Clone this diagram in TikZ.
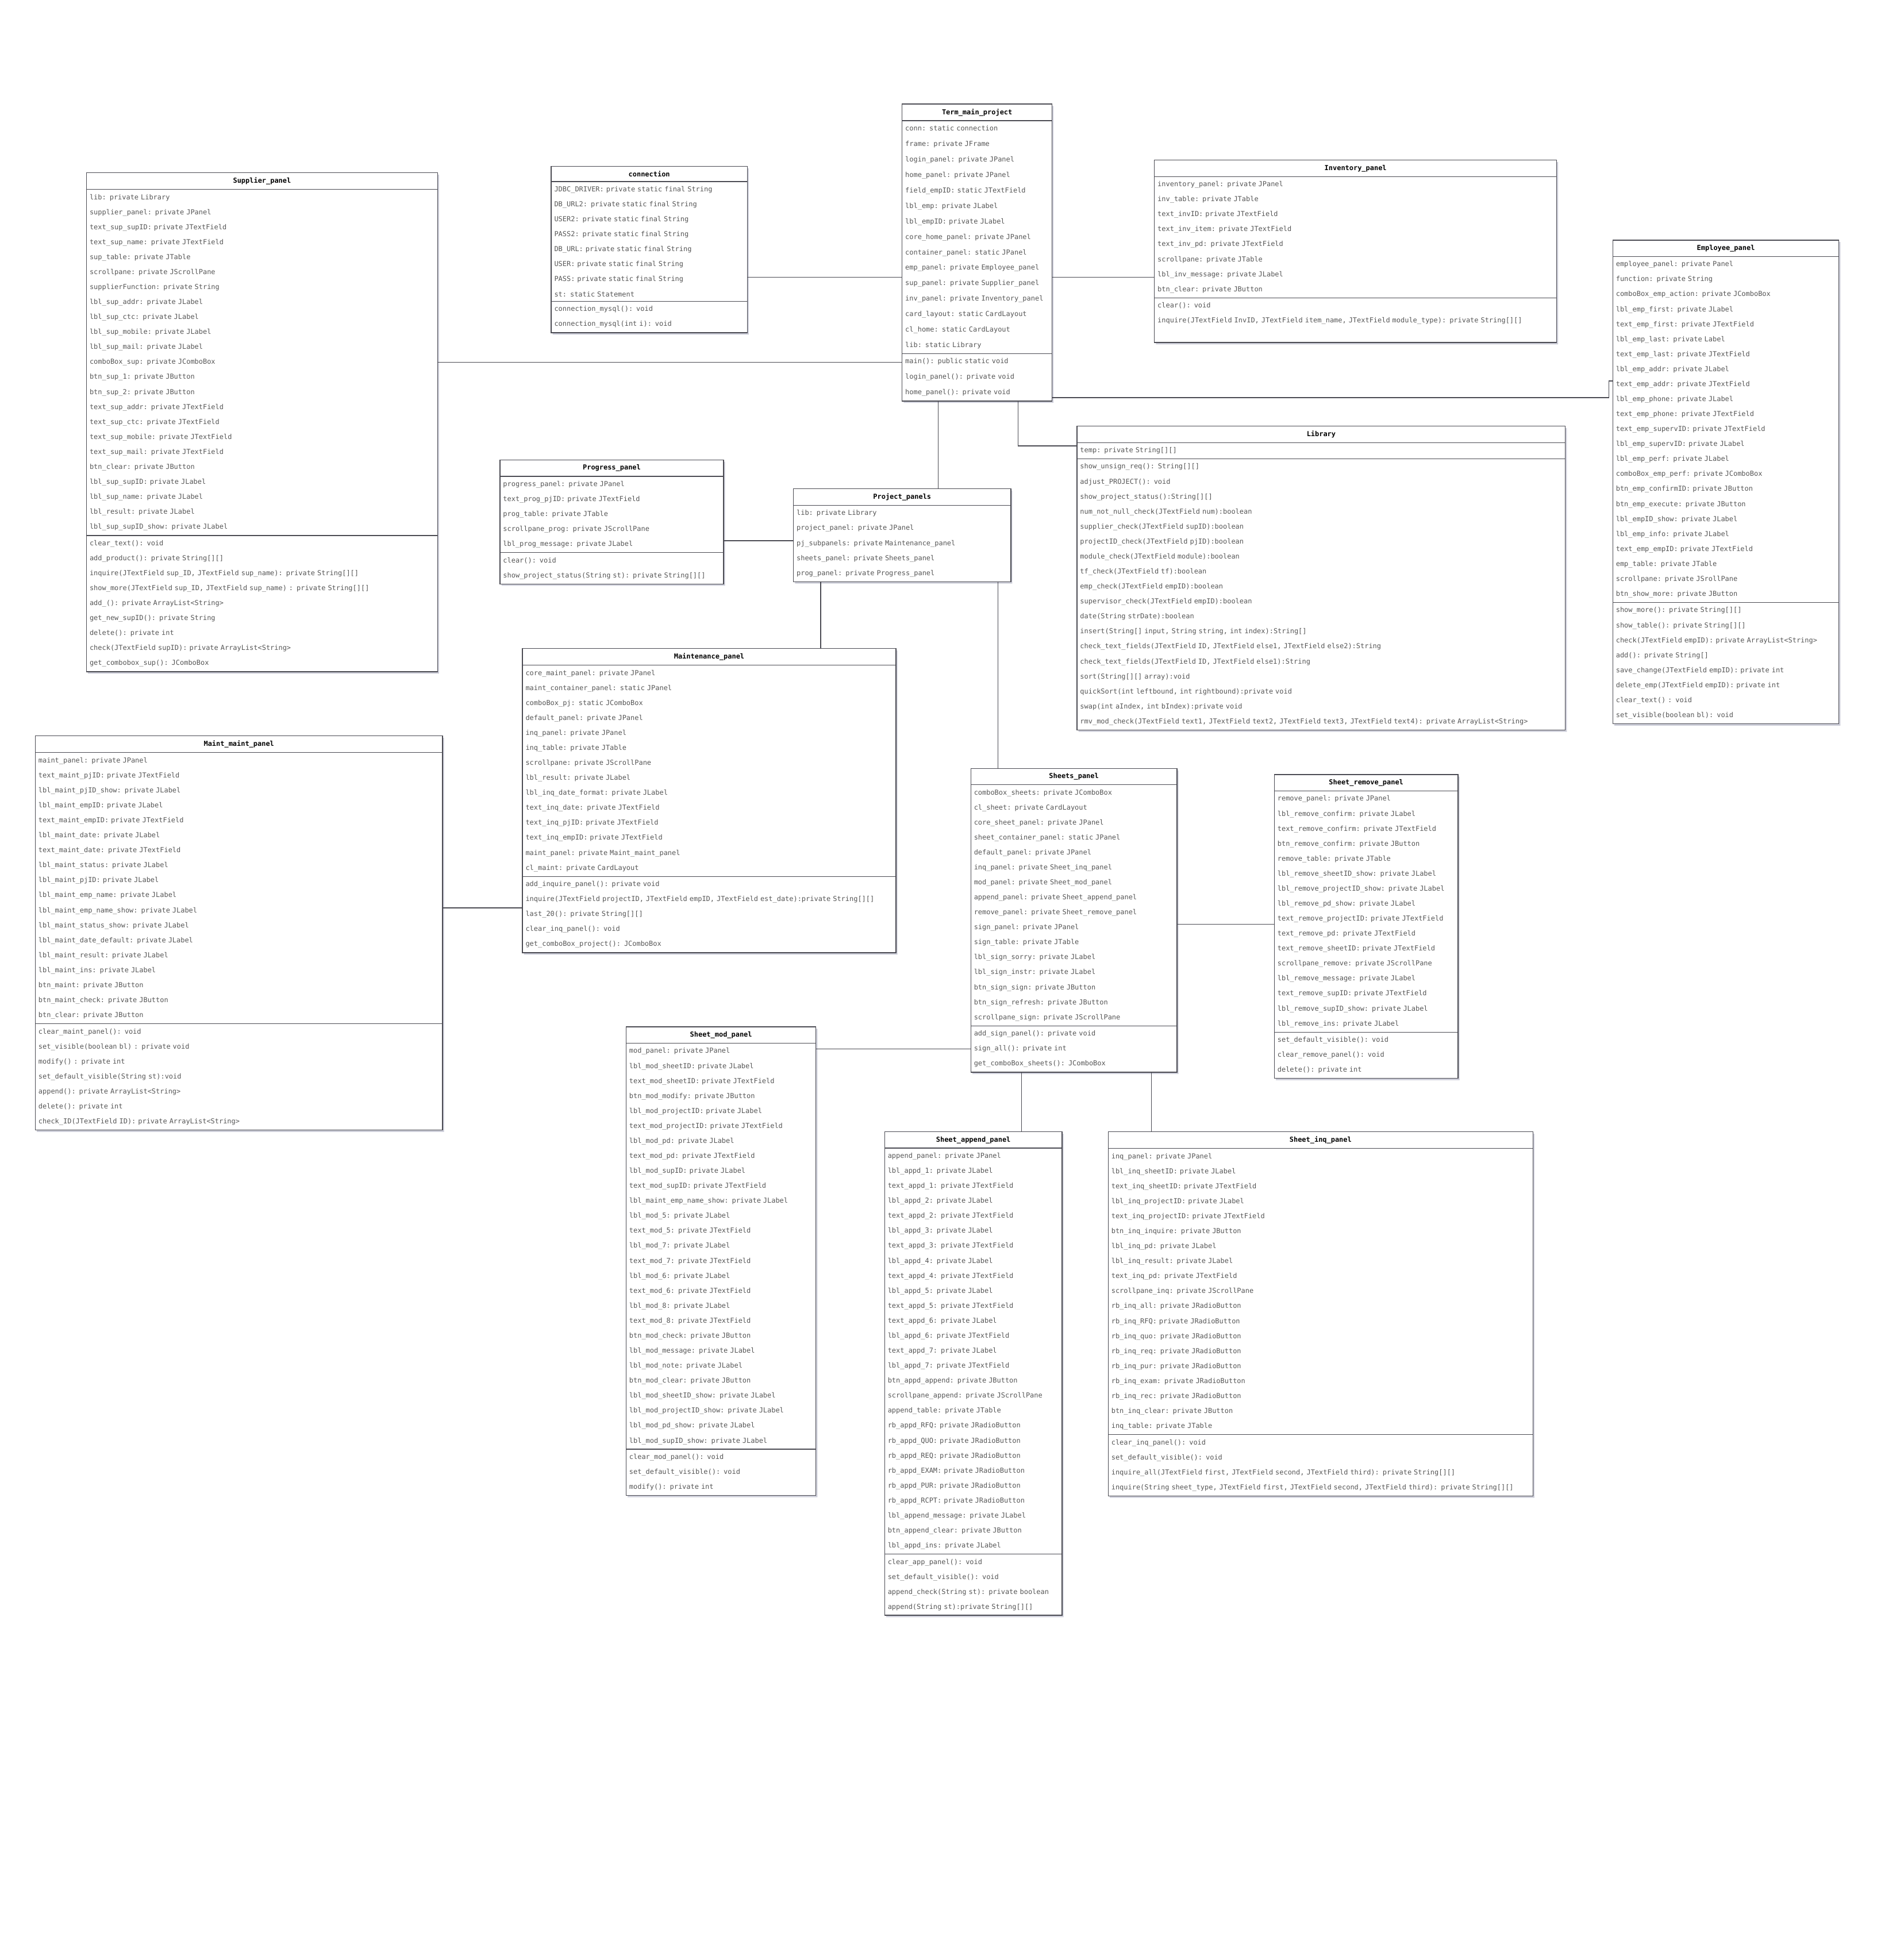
\documentclass[tikz,border=0pt]{standalone}
\usepackage{fontspec}
\usepackage{tikz}
\usetikzlibrary{shapes.multipart,shadows,calc}
\newfontfamily\umlfont{DejaVu Sans Mono}
\definecolor{boxline}{HTML}{4A4A52}
\definecolor{textgray}{HTML}{555555}
\definecolor{shadowc}{HTML}{9C9EB4}

\tikzset{
  classbox/.style={rectangle split, rectangle split parts=#1, draw=boxline, fill=white, line width=0.6pt,
    anchor=north west, inner xsep=2.5pt, inner ysep=3.5pt, align=left, text=textgray,
    font=\umlfont\fontsize{5.5pt}{12pt}\selectfont,
    drop shadow={shadow xshift=1.2pt, shadow yshift=-1.5pt, fill=shadowc}},
  classbox/.default=3,
  link/.style={draw=boxline, line width=0.6pt}
}
\newcommand{\classtitle}[1]{{\centering\textcolor{black}{\bfseries #1}\par}}

\begin{document}
\begin{tikzpicture}[x=1pt, y=-1pt]
\useasboundingbox[fill=white] (0,0) rectangle (1524,1569.5);

\path (722, 83) node[classbox, text width=115pt, font=\umlfont\fontsize{5.5pt}{12.4pt}\selectfont] (term) {\classtitle{Term\_main\_project}
\nodepart{two}conn: static connection\\ frame: private JFrame\\ login\_panel: private JPanel\\ home\_panel: private JPanel\\
field\_empID: static JTextField\\ lbl\_emp: private JLabel\\ lbl\_empID: private JLabel\\ core\_home\_panel: private JPanel\\
container\_panel: static JPanel\\ emp\_panel: private Employee\_panel\\ sup\_panel: private Supplier\_panel\\
inv\_panel: private Inventory\_panel\\ card\_layout: static CardLayout\\ cl\_home: static CardLayout\\ lib: static Library
\nodepart{three}main(): public static void\\ login\_panel(): private void\\ home\_panel(): private void};

\path (441, 133) node[classbox, text width=152pt] (conn) {\classtitle{connection}
\nodepart{two}JDBC\_DRIVER: private static final String\\ DB\_URL2: private static final String\\
USER2: private static final String\\ PASS2: private static final String\\ DB\_URL: private static final String\\
USER: private static final String\\ PASS: private static final String\\ st: static Statement
\nodepart{three}connection\_mysql(): void\\ connection\_mysql(int i): void};

\path (924, 128) node[classbox, text width=317pt] (inv) {\classtitle{Inventory\_panel}
\nodepart{two}inventory\_panel: private JPanel\\ inv\_table: private JTable\\ text\_invID: private JTextField\\
text\_inv\_item: private JTextField\\ text\_inv\_pd: private JTextField\\ scrollpane: private JTable\\
lbl\_inv\_message: private JLabel\\ btn\_clear: private JButton
\nodepart{three}clear(): void\\ inquire(JTextField InvID, JTextField item\_name, JTextField module\_type): private String[][]\\ \mbox{}};

\path (1291, 192) node[classbox, text width=176pt] (emp) {\classtitle{Employee\_panel}
\nodepart{two}employee\_panel: private Panel\\ function: private String\\ comboBox\_emp\_action: private JComboBox\\
lbl\_emp\_first: private JLabel\\ text\_emp\_first: private JTextField\\ lbl\_emp\_last: private Label\\
text\_emp\_last: private JTextField\\ lbl\_emp\_addr: private JLabel\\ text\_emp\_addr: private JTextField\\
lbl\_emp\_phone: private JLabel\\ text\_emp\_phone: private JTextField\\ text\_emp\_supervID: private JTextField\\
lbl\_emp\_supervID: private JLabel\\ lbl\_emp\_perf: private JLabel\\ comboBox\_emp\_perf: private JComboBox\\
btn\_emp\_confirmID: private JButton\\ btn\_emp\_execute: private JButton\\ lbl\_empID\_show: private JLabel\\
lbl\_emp\_info: private JLabel\\ text\_emp\_empID: private JTextField\\ emp\_table: private JTable\\
scrollpane: private JSrollPane\\ btn\_show\_more: private JButton
\nodepart{three}show\_more(): private String[][]\\ show\_table(): private String[][]\\
check(JTextField empID): private ArrayList<String>\\ add(): private String[]\\ save\_change(JTextField empID): private int\\
delete\_emp(JTextField empID): private int\\ clear\_text() : void\\ set\_visible(boolean bl): void};

\path (69, 138) node[classbox, text width=276pt] (sup) {\classtitle{Supplier\_panel}
\nodepart{two}lib: private Library\\ supplier\_panel: private JPanel\\ text\_sup\_supID: private JTextField\\
text\_sup\_name: private JTextField\\ sup\_table: private JTable\\ scrollpane: private JScrollPane\\
supplierFunction: private String\\ lbl\_sup\_addr: private JLabel\\ lbl\_sup\_ctc: private JLabel\\
lbl\_sup\_mobile: private JLabel\\ lbl\_sup\_mail: private JLabel\\ comboBox\_sup: private JComboBox\\
btn\_sup\_1: private JButton\\ btn\_sup\_2: private JButton\\ text\_sup\_addr: private JTextField\\
text\_sup\_ctc: private JTextField\\ text\_sup\_mobile: private JTextField\\ text\_sup\_mail: private JTextField\\
btn\_clear: private JButton\\ lbl\_sup\_supID: private JLabel\\ lbl\_sup\_name: private JLabel\\
lbl\_result: private JLabel\\ lbl\_sup\_supID\_show: private JLabel
\nodepart{three}clear\_text(): void\\ add\_product(): private String[][]\\
inquire(JTextField sup\_ID, JTextField sup\_name): private String[][]\\
show\_more(JTextField sup\_ID, JTextField sup\_name) : private String[][]\\ add\_(): private ArrayList<String>\\
get\_new\_supID(): private String\\ delete(): private int\\ check(JTextField supID): private ArrayList<String>\\
get\_combobox\_sup(): JComboBox};

\path (862, 341) node[classbox, text width=386pt] (lib) {\classtitle{Library}
\nodepart{two}temp: private String[][]
\nodepart{three}show\_unsign\_req(): String[][]\\ adjust\_PROJECT(): void\\ show\_project\_status():String[][]\\
num\_not\_null\_check(JTextField num):boolean\\ supplier\_check(JTextField supID):boolean\\
projectID\_check(JTextField pjID):boolean\\ module\_check(JTextField module):boolean\\ tf\_check(JTextField tf):boolean\\
emp\_check(JTextField empID):boolean\\ supervisor\_check(JTextField empID):boolean\\ date(String strDate):boolean\\
insert(String[] input, String string, int index):String[]\\
check\_text\_fields(JTextField ID, JTextField else1, JTextField else2):String\\
check\_text\_fields(JTextField ID, JTextField else1):String\\ sort(String[][] array):void\\
quickSort(int leftbound, int rightbound):private void\\ swap(int aIndex, int bIndex):private void\\
rmv\_mod\_check(JTextField text1, JTextField text2, JTextField text3, JTextField text4): private ArrayList<String>};

\path (400, 368) node[classbox, text width=174pt] (prog) {\classtitle{Progress\_panel}
\nodepart{two}progress\_panel: private JPanel\\ text\_prog\_pjID: private JTextField\\ prog\_table: private JTable\\
scrollpane\_prog: private JScrollPane\\ lbl\_prog\_message: private JLabel
\nodepart{three}clear(): void\\ show\_project\_status(String st): private String[][]};

\path (635, 391) node[classbox=2, text width=169pt] (proj) {\classtitle{Project\_panels}
\nodepart{two}lib: private Library\\ project\_panel: private JPanel\\ pj\_subpanels: private Maintenance\_panel\\
sheets\_panel: private Sheets\_panel\\ prog\_panel: private Progress\_panel};

\path (418, 519) node[classbox, text width=294pt] (maint) {\classtitle{Maintenance\_panel}
\nodepart{two}core\_maint\_panel: private JPanel\\ maint\_container\_panel: static JPanel\\ comboBox\_pj: static JComboBox\\
default\_panel: private JPanel\\ inq\_panel: private JPanel\\ inq\_table: private JTable\\ scrollpane: private JScrollPane\\
lbl\_result: private JLabel\\ lbl\_inq\_date\_format: private JLabel\\ text\_inq\_date: private JTextField\\
text\_inq\_pjID: private JTextField\\ text\_inq\_empID: private JTextField\\ maint\_panel: private Maint\_maint\_panel\\
cl\_maint: private CardLayout
\nodepart{three}add\_inquire\_panel(): private void\\
inquire(JTextField projectID, JTextField empID, JTextField est\_date):private String[][]\\
last\_20(): private String[][]\\ clear\_inq\_panel(): void\\ get\_comboBox\_project(): JComboBox};

\path (28, 589) node[classbox, text width=321pt] (mm) {\classtitle{Maint\_maint\_panel}
\nodepart{two}maint\_panel: private JPanel\\ text\_maint\_pjID: private JTextField\\ lbl\_maint\_pjID\_show: private JLabel\\
lbl\_maint\_empID: private JLabel\\ text\_maint\_empID: private JTextField\\ lbl\_maint\_date: private JLabel\\
text\_maint\_date: private JTextField\\ lbl\_maint\_status: private JLabel\\ lbl\_maint\_pjID: private JLabel\\
lbl\_maint\_emp\_name: private JLabel\\ lbl\_maint\_emp\_name\_show: private JLabel\\ lbl\_maint\_status\_show: private JLabel\\
lbl\_maint\_date\_default: private JLabel\\ lbl\_maint\_result: private JLabel\\ lbl\_maint\_ins: private JLabel\\
btn\_maint: private JButton\\ btn\_maint\_check: private JButton\\ btn\_clear: private JButton
\nodepart{three}clear\_maint\_panel(): void\\ set\_visible(boolean bl) : private void\\ modify() : private int\\
set\_default\_visible(String st):void\\ append(): private ArrayList<String>\\ delete(): private int\\
check\_ID(JTextField ID): private ArrayList<String>};

\path (777, 615) node[classbox, text width=160pt] (sheets) {\classtitle{Sheets\_panel}
\nodepart{two}comboBox\_sheets: private JComboBox\\ cl\_sheet: private CardLayout\\ core\_sheet\_panel: private JPanel\\
sheet\_container\_panel: static JPanel\\ default\_panel: private JPanel\\ inq\_panel: private Sheet\_inq\_panel\\
mod\_panel: private Sheet\_mod\_panel\\ append\_panel: private Sheet\_append\_panel\\
remove\_panel: private Sheet\_remove\_panel\\ sign\_panel: private JPanel\\ sign\_table: private JTable\\
lbl\_sign\_sorry: private JLabel\\ lbl\_sign\_instr: private JLabel\\ btn\_sign\_sign: private JButton\\
btn\_sign\_refresh: private JButton\\ scrollpane\_sign: private JScrollPane
\nodepart{three}add\_sign\_panel(): private void\\ sign\_all(): private int\\ get\_comboBox\_sheets(): JComboBox};

\path (1020, 620) node[classbox, text width=142pt] (rem) {\classtitle{Sheet\_remove\_panel}
\nodepart{two}remove\_panel: private JPanel\\ lbl\_remove\_confirm: private JLabel\\ text\_remove\_confirm: private JTextField\\
btn\_remove\_confirm: private JButton\\ remove\_table: private JTable\\ lbl\_remove\_sheetID\_show: private JLabel\\
lbl\_remove\_projectID\_show: private JLabel\\ lbl\_remove\_pd\_show: private JLabel\\
text\_remove\_projectID: private JTextField\\ text\_remove\_pd: private JTextField\\
text\_remove\_sheetID: private JTextField\\ scrollpane\_remove: private JScrollPane\\
lbl\_remove\_message: private JLabel\\ text\_remove\_supID: private JTextField\\ lbl\_remove\_supID\_show: private JLabel\\
lbl\_remove\_ins: private JLabel
\nodepart{three}set\_default\_visible(): void\\ clear\_remove\_panel(): void\\ delete(): private int};

\path (501, 822) node[classbox, text width=147pt] (smod) {\classtitle{Sheet\_mod\_panel}
\nodepart{two}mod\_panel: private JPanel\\ lbl\_mod\_sheetID: private JLabel\\ text\_mod\_sheetID: private JTextField\\
btn\_mod\_modify: private JButton\\ lbl\_mod\_projectID: private JLabel\\ text\_mod\_projectID: private JTextField\\
lbl\_mod\_pd: private JLabel\\ text\_mod\_pd: private JTextField\\ lbl\_mod\_supID: private JLabel\\
text\_mod\_supID: private JTextField\\ lbl\_maint\_emp\_name\_show: private JLabel\\ lbl\_mod\_5: private JLabel\\
text\_mod\_5: private JTextField\\ lbl\_mod\_7: private JLabel\\ text\_mod\_7: private JTextField\\
lbl\_mod\_6: private JLabel\\ text\_mod\_6: private JTextField\\ lbl\_mod\_8: private JLabel\\
text\_mod\_8: private JTextField\\ btn\_mod\_check: private JButton\\ lbl\_mod\_message: private JLabel\\
lbl\_mod\_note: private JLabel\\ btn\_mod\_clear: private JButton\\ lbl\_mod\_sheetID\_show: private JLabel\\
lbl\_mod\_projectID\_show: private JLabel\\ lbl\_mod\_pd\_show: private JLabel\\ lbl\_mod\_supID\_show: private JLabel
\nodepart{three}clear\_mod\_panel(): void\\ set\_default\_visible(): void\\ modify(): private int};

\path (708, 906) node[classbox, text width=137pt] (app) {\classtitle{Sheet\_append\_panel}
\nodepart{two}append\_panel: private JPanel\\ lbl\_appd\_1: private JLabel\\ text\_appd\_1: private JTextField\\
lbl\_appd\_2: private JLabel\\ text\_appd\_2: private JTextField\\ lbl\_appd\_3: private JLabel\\
text\_appd\_3: private JTextField\\ lbl\_appd\_4: private JLabel\\ text\_appd\_4: private JTextField\\
lbl\_appd\_5: private JLabel\\ text\_appd\_5: private JTextField\\ text\_appd\_6: private JLabel\\
lbl\_appd\_6: private JTextField\\ text\_appd\_7: private JLabel\\ lbl\_appd\_7: private JTextField\\
btn\_appd\_append: private JButton\\ scrollpane\_append: private JScrollPane\\ append\_table: private JTable\\
rb\_appd\_RFQ: private JRadioButton\\ rb\_appd\_QUO: private JRadioButton\\ rb\_appd\_REQ: private JRadioButton\\
rb\_appd\_EXAM: private JRadioButton\\ rb\_appd\_PUR: private JRadioButton\\ rb\_appd\_RCPT: private JRadioButton\\
lbl\_append\_message: private JLabel\\ btn\_append\_clear: private JButton\\ lbl\_appd\_ins: private JLabel
\nodepart{three}clear\_app\_panel(): void\\ set\_default\_visible(): void\\ append\_check(String st): private boolean\\
append(String st):private String[][]};

\path (887, 906) node[classbox, text width=335pt] (inq) {\classtitle{Sheet\_inq\_panel}
\nodepart{two}inq\_panel: private JPanel\\ lbl\_inq\_sheetID: private JLabel\\ text\_inq\_sheetID: private JTextField\\
lbl\_inq\_projectID: private JLabel\\ text\_inq\_projectID: private JTextField\\ btn\_inq\_inquire: private JButton\\
lbl\_inq\_pd: private JLabel\\ lbl\_inq\_result: private JLabel\\ text\_inq\_pd: private JTextField\\
scrollpane\_inq: private JScrollPane\\ rb\_inq\_all: private JRadioButton\\ rb\_inq\_RFQ: private JRadioButton\\
rb\_inq\_quo: private JRadioButton\\ rb\_inq\_req: private JRadioButton\\ rb\_inq\_pur: private JRadioButton\\
rb\_inq\_exam: private JRadioButton\\ rb\_inq\_rec: private JRadioButton\\ btn\_inq\_clear: private JButton\\
inq\_table: private JTable
\nodepart{three}clear\_inq\_panel(): void\\ set\_default\_visible(): void\\
inquire\_all(JTextField first, JTextField second, JTextField third): private String[][]\\
inquire(String sheet\_type, JTextField first, JTextField second, JTextField third): private String[][]};

\coordinate (tconn) at ([yshift=-139pt]term.north west);
\coordinate (tinv) at ([yshift=-139pt]term.north east);
\coordinate (tsup) at ([yshift=-207pt]term.north west);
\coordinate (temp) at ([yshift=3pt]term.south east);
\coordinate (eterm) at ([yshift=-113pt]emp.north west);
\coordinate (tlib) at ([xshift=93pt]term.south west);
\coordinate (lterm) at ([yshift=-16pt]lib.north west);
\coordinate (tproj) at ([xshift=29pt]term.south west);
\coordinate (pproj) at ([yshift=-65pt]prog.north east);
\coordinate (pmaint) at ([xshift=22pt]proj.south west);
\coordinate (psheets) at ([xshift=164pt]proj.south west);
\coordinate (mmaint) at ([yshift=-138pt]mm.north east);
\coordinate (srem) at ([yshift=-125pt]sheets.north east);
\coordinate (msheets) at ([yshift=-18pt]smod.north east);
\coordinate (sapp) at ([xshift=41pt]sheets.south west);
\coordinate (sinq) at ([xshift=145pt]sheets.south west);

\draw[link] (tconn) -- (tconn -| conn.east);
\draw[link] (tinv) -- (tinv -| inv.west);
\draw[link] (tsup) -- (tsup -| sup.east);
\draw[link] (temp) -| ($(eterm)+(-3,0)$) -- (eterm);
\draw[link] (tlib) |- (lterm);
\draw[link] (tproj) -- (tproj |- proj.north);
\draw[link] (pproj) -- (pproj -| proj.west);
\draw[link] (pmaint) -- (pmaint |- maint.north);
\draw[link] (psheets) -- (psheets |- sheets.north);
\draw[link] (mmaint) -- (mmaint -| maint.west);
\draw[link] (srem) -- (srem -| rem.west);
\draw[link] (msheets) -- (msheets -| sheets.west);
\draw[link] (sapp) -- (sapp |- app.north);
\draw[link] (sinq) -- (sinq |- inq.north);
\end{tikzpicture}
\end{document}
